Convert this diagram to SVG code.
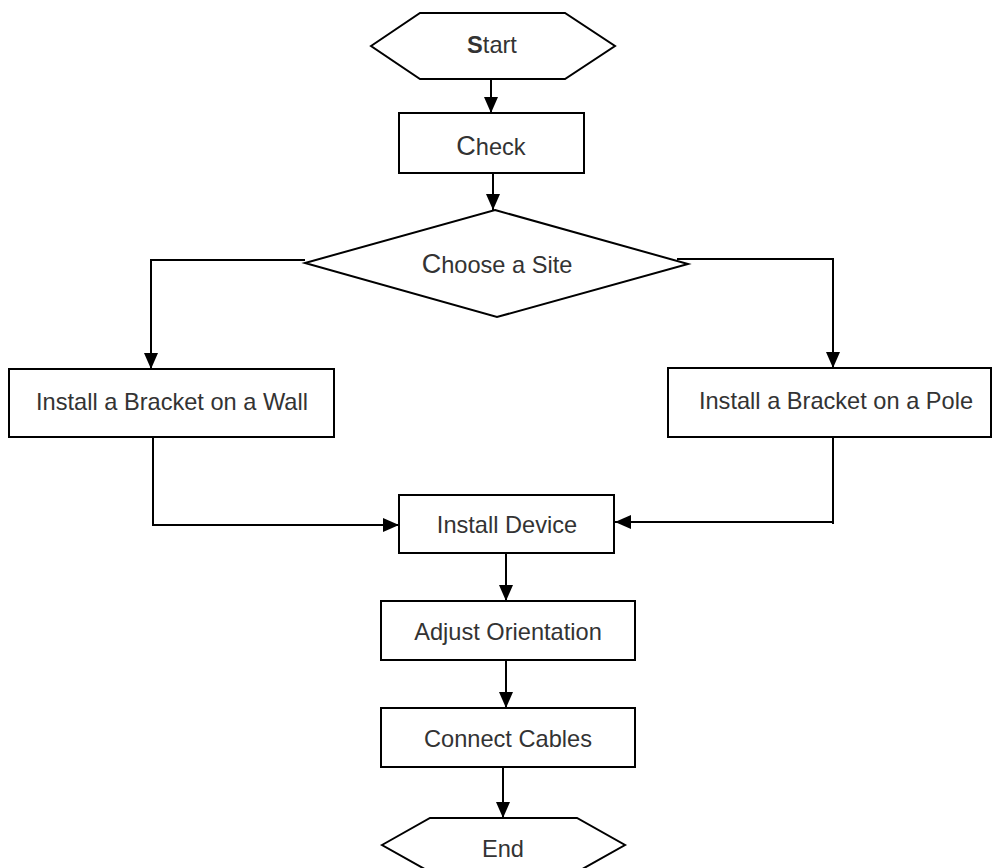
<svg xmlns="http://www.w3.org/2000/svg" width="992" height="868" viewBox="0 0 992 868">
<defs>
<marker id="ah" markerWidth="16" markerHeight="14" refX="16" refY="7" viewBox="0 0 16 14" orient="auto" markerUnits="userSpaceOnUse">
<path d="M0,0 L16,7 L0,14 Z" fill="#000"/>
</marker>
<style>
.shape{fill:#fff;stroke:#000;stroke-width:2}
.lbl{font-family:"Liberation Sans",Arial,sans-serif;font-size:23.6px;fill:#333;text-anchor:middle}
.big{font-size:27px}
.bold{font-weight:bold}
.conn{fill:none;stroke:#000;stroke-width:2}
</style>
</defs>
<rect width="992" height="868" fill="#fff"/>
<g id="connectors">
<line class="conn" x1="491" y1="79" x2="491" y2="113" marker-end="url(#ah)"/>
<line class="conn" x1="493" y1="173" x2="493" y2="210" marker-end="url(#ah)"/>
<polyline class="conn" points="305,260 151,260 151,369" marker-end="url(#ah)"/>
<polyline class="conn" points="677,259 833,259 833,368" marker-end="url(#ah)"/>
<polyline class="conn" points="153,437 153,525 399,525" marker-end="url(#ah)"/>
<polyline class="conn" points="833,437 833,524"/>
<line class="conn" x1="833" y1="522" x2="615" y2="522" marker-end="url(#ah)"/>
<line class="conn" x1="506" y1="553" x2="506" y2="601" marker-end="url(#ah)"/>
<line class="conn" x1="506" y1="660" x2="506" y2="708" marker-end="url(#ah)"/>
<line class="conn" x1="503" y1="767" x2="503" y2="818" marker-end="url(#ah)"/>
</g>
<g id="start">
<polygon class="shape" points="371,46 420,13 565,13 615,46 565,79 420,79"/>
<text class="lbl" x="492" y="53"><tspan class="bold">S</tspan>tart</text>
</g>
<g id="check">
<rect class="shape" x="399" y="113" width="185" height="60"/>
<text class="lbl" x="491" y="155"><tspan class="big">C</tspan>heck</text>
</g>
<g id="choose">
<polygon class="shape" points="495,210 688,264 497,317 305,263"/>
<text class="lbl" x="497" y="273"><tspan class="big">C</tspan>hoose a Site</text>
</g>
<g id="wall">
<rect class="shape" x="9" y="369" width="325" height="68"/>
<text class="lbl" x="172" y="410">Install a Bracket on a Wall</text>
</g>
<g id="pole">
<rect class="shape" x="668" y="368" width="323" height="69"/>
<text class="lbl" x="836" y="409">Install a Bracket on a Pole</text>
</g>
<g id="device">
<rect class="shape" x="399" y="495" width="215" height="58"/>
<text class="lbl" x="507" y="533">Install Device</text>
</g>
<g id="adjust">
<rect class="shape" x="381" y="601" width="254" height="59"/>
<text class="lbl" x="508" y="640">Adjust Orientation</text>
</g>
<g id="connect">
<rect class="shape" x="381" y="708" width="254" height="59"/>
<text class="lbl" x="508" y="747">Connect Cables</text>
</g>
<g id="end">
<polygon class="shape" points="382,845 430,818 577,818 625,845 577,872 430,872"/>
<text class="lbl" x="503" y="857">End</text>
</g>
</svg>
